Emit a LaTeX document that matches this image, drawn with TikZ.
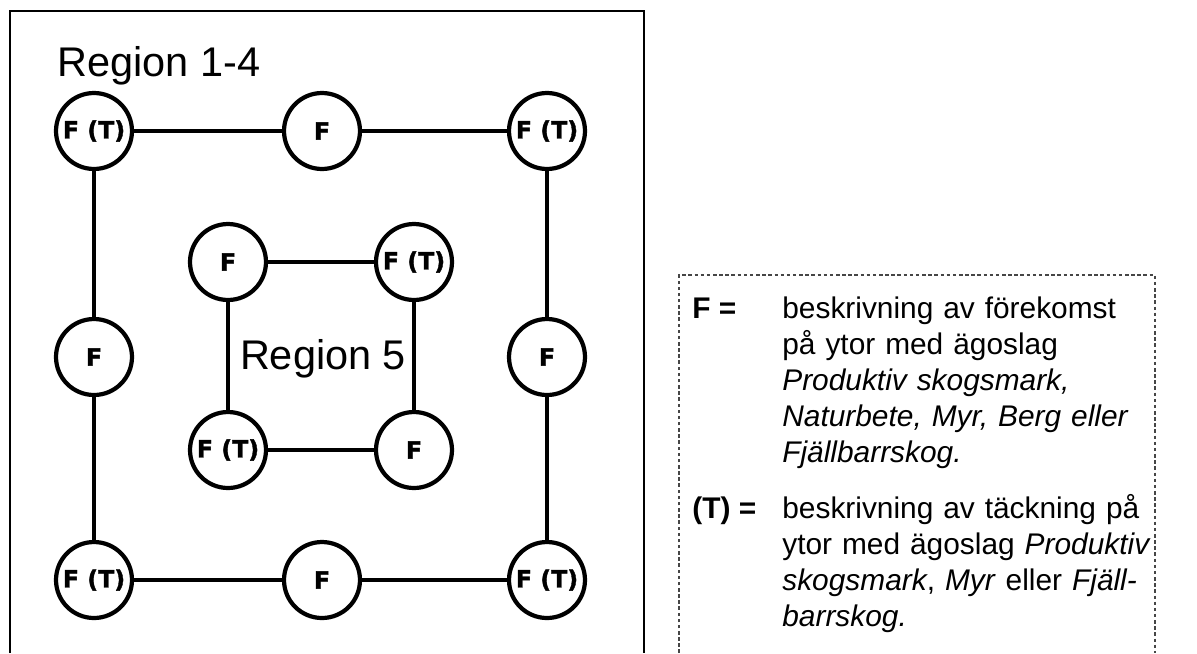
\documentclass[tikz,border=0pt]{standalone}
\usepackage{fontspec}
\setmainfont{Liberation Sans}
\newfontfamily\heavyfont[FakeBold=1.6]{DejaVu Sans Bold}
\usepackage{tikz}
\usetikzlibrary{positioning}
\definecolor{myink}{RGB}{0,0,0}
\definecolor{mygrey}{RGB}{70,70,70}
\tikzset{
  ring/.style={circle, draw=myink, fill=white, minimum size=1.52cm,
    inner sep=0pt, line width=2.4pt,
    font=\heavyfont\fontsize{13.5}{15}\selectfont},
  link/.style={line width=2.3pt, color=myink},
  frame/.style={line width=1.1pt, color=myink},
  keybox/.style={draw=mygrey, line width=0.6pt, dash pattern=on 2pt off 1.5pt},
  region/.style={inner sep=0pt, font=\fontsize{23.6}{28}\selectfont},
  keyterm/.style={inner sep=0pt, anchor=base west, font=\fontsize{17}{20.5}\selectfont},
  keytext/.style={inner sep=0pt, anchor=base west, text width=8cm, align=left,
    font=\fontsize{17}{20.5}\selectfont}
}

\begin{document}
\begin{tikzpicture}[x=0.02cm, y=-0.02cm]
  \useasboundingbox (0,0) rectangle (1197,653);

  % frames
  \draw[frame] (10,653) |- (644,11) -- (644,653);
  \draw[keybox] (679,653) |- (1155,275) -- (1155,653);

  % outer ring of plots
  \node[ring] (tl) at (94,131) {F (T)};
  \node[ring] (tm) at (322,131) {F};
  \node[ring] (tr) at (547,131) {F (T)};
  \node[ring] (ml) at (94,357) {F};
  \node[ring] (mr) at (547,357) {F};
  \node[ring] (bl) at (94,580) {F (T)};
  \node[ring] (bm) at (322,580) {F};
  \node[ring] (br) at (547,580) {F (T)};

  % inner ring of plots
  \node[ring] (itl) at (228,262) {F};
  \node[ring] (itr) at (414,262) {F (T)};
  \node[ring] (ibl) at (228,450) {F (T)};
  \node[ring] (ibr) at (414,450) {F};

  \draw[link] (tl) -- (tm);
  \draw[link] (tm) -- (tr);
  \draw[link] (tl) -- (ml);
  \draw[link] (ml) -- (bl);
  \draw[link] (tr) -- (mr);
  \draw[link] (mr) -- (br);
  \draw[link] (bl) -- (bm);
  \draw[link] (bm) -- (br);

  \draw[link] (itl) -- (itr);
  \draw[link] (ibl) -- (ibr);
  \draw[link] (itl) -- (ibl);
  \draw[link] (itr) -- (ibr);

  \node[region, anchor=base west] (r14) at (57,76) {Region 1-4};
  \node[region, anchor=base] (r5) at (323,369) {Region 5};

  % legend
  \node[keyterm] (kf) at (692,318) {\textbf{F =}};
  \node[keytext] (tf) at (782,318) {beskrivning av förekomst\\
    på ytor med ägoslag\\
    \textit{Produktiv skogsmark,}\\
    \textit{Naturbete, Myr, Berg eller}\\
    \textit{Fjällbarrskog.}};
  \node[keyterm] (kt) at (692,518) {\textbf{(T) =}};
  \node[keytext] (tt) at (782,518) {beskrivning av täckning på\\
    ytor med ägoslag \textit{Produktiv}\\
    \textit{skogsmark}, \textit{Myr} eller \textit{Fjäll-}\\
    \textit{barrskog.}};

\end{tikzpicture}
\end{document}
